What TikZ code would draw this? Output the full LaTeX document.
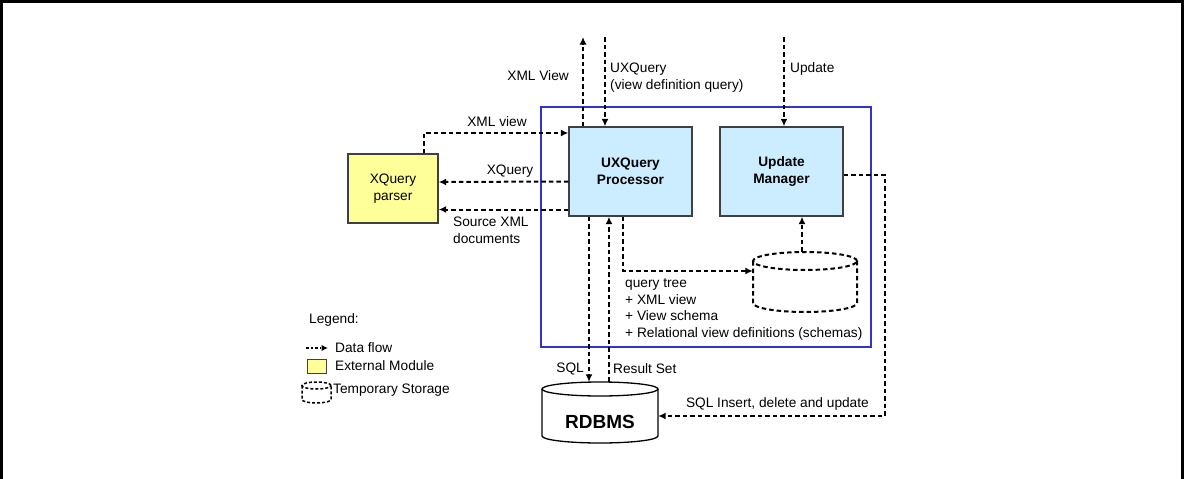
\documentclass[tikz,border=0pt]{standalone}
\usepackage{fontspec}
\setmainfont{Liberation Sans}
\usetikzlibrary{arrows.meta,calc}

\definecolor{procfill}{RGB}{204,236,255}
\definecolor{extfill}{RGB}{255,255,153}
\definecolor{frameblue}{RGB}{51,51,204}
\definecolor{boxline}{RGB}{64,64,64}

\begin{document}
\begin{tikzpicture}[x=1pt,y=-1pt,
  every node/.style={font=\fontsize{13.7}{16.6}\selectfont, inner sep=0pt},
  modbox/.style={draw=boxline, line width=1.3pt, fill=procfill, align=center,
    minimum width=123pt, minimum height=89pt,
    font=\fontsize{13.7}{16.6}\selectfont\bfseries},
  extbox/.style={draw=boxline, line width=1.3pt, fill=extfill, align=center},
  flowline/.style={line width=2pt, dash pattern=on 4.5pt off 3pt},
  flow/.style={flowline, -{Latex[length=7.5pt,width=7pt]}},
  lbl/.style={align=left}]

\useasboundingbox (0,0) rectangle (1187,479);

% outer frame
\draw[line width=3pt] (1.5,479) -- (1.5,1.5) -- (1182.5,1.5) -- (1182.5,479);

% system boundary
\draw[frameblue, line width=2.5pt] (541,107) rectangle (871,347);

% modules
\node[modbox] (uxq) at (630.5,171.5) {UXQuery\\Processor};
\node[modbox] (updm) at (781.5,171.5) {Update\\Manager};
\node[extbox, minimum width=90pt, minimum height=69pt] (xqp) at (393,188.5) {XQuery\\parser};

% relational database
\node[minimum width=116pt, minimum height=61pt] (rdb) at (600,412.5) {};
\draw[line width=1.3pt, fill=white] (542,389) -- (542,436)
  arc[start angle=180, end angle=360, x radius=58pt, y radius=7pt] -- (658,389);
\draw[line width=1.3pt, fill=white] (600,389) ellipse[x radius=58pt, y radius=7pt];
\node[font=\fontsize{19}{22}\selectfont\bfseries] (rdblabel) at (600,422) {RDBMS};

% temporary storage
\node[minimum width=104pt, minimum height=60pt] (tmp) at (805,282) {};
\draw[flowline] (753,261) -- (753,303)
  arc[start angle=180, end angle=360, x radius=52pt, y radius=9pt] -- (857,261);
\draw[flowline] (805,261) ellipse[x radius=52pt, y radius=9pt];

% free ends
\coordinate (xvtop) at (583,37);
\coordinate (uqtop) at (605,37);
\coordinate (updtop) at (784,37);
\coordinate (rcorner) at (885,416);

% data flows
\draw[flow] ($(uxq.north)+(-47.5,0)$) -- (xvtop);
\draw[flow] (uqtop) -- ($(uxq.north)+(-25.5,0)$);
\draw[flow] (updtop) -- ($(updm.north)+(2.5,0)$);
\draw[flow] ($(xqp.north)+(31,0)$) |- ($(uxq.west)+(0,-38.5)$);
\draw[flow] ($(uxq.west)+(0,10)$) -- ($(xqp.east)+(0,-6.5)$);
\draw[flow] ($(uxq.west)+(0,38)$) -- ($(xqp.east)+(0,21)$);
\draw[flow] ($(uxq.south)+(-41.5,0)$) -- ($(rdb.north)+(-11,0)$);
\draw[flow] ($(rdb.north)+(9,0)$) -- ($(uxq.south)+(-21.5,0)$);
\draw[flow] ($(uxq.south)+(-7.5,0)$) |- ($(tmp.west)+(0,-11)$);
\draw[flow] ($(tmp.north)+(-3,0)$) -- ($(updm.south)+(20.5,0)$);
\draw[flow] ($(updm.east)+(0,3.5)$) -| (rcorner) -- ($(rdb.east)+(0,3.5)$);

% flow labels
\node[anchor=east] (lxv) at (569,76) {XML View};
\node[anchor=west, lbl] (luq) at (610,77.5) {UXQuery\\(view definition query)};
\node[anchor=west] (lupd) at (790,69) {Update};
\node (lxv2) at (497,122) {XML view};
\node (lxq) at (510,171) {XQuery};
\node[anchor=west, lbl] (lsrc) at (453,230.5) {Source XML\\documents};
\node[anchor=east] (lsql) at (584,369) {SQL};
\node[anchor=west] (lres) at (613,369) {Result Set};
\node[anchor=west, lbl] (lqt) at (625,309.5) {query tree\\+ XML view\\+ View schema\\+ Relational view definitions (schemas)};
\node[anchor=east] (lins) at (869,404) {SQL Insert, delete and update};

% legend
\node[anchor=west] (lgtitle) at (309,320) {Legend:};
\coordinate (lgA) at (306,348);
\coordinate (lgB) at (328,348);
\draw[line width=1.8pt, dash pattern=on 3pt off 2pt on 1.5pt off 2pt,
  -{Latex[length=6.5pt,width=6.5pt]}] (lgA) -- (lgB);
\node[anchor=west] (lgflow) at (335,348) {Data flow};
\node[extbox, line width=1pt, minimum width=19pt, minimum height=14pt] (lgext) at (317,366) {};
\node[anchor=west] (lgexttxt) at (335,366) {External Module};
\draw[line width=1.5pt, dash pattern=on 3pt off 2pt] (302,385.5) -- (302,399.5)
  arc[start angle=180, end angle=360, x radius=14.5pt, y radius=3.5pt] -- (331,385.5);
\draw[line width=1.5pt, dash pattern=on 3pt off 2pt] (316.5,385.5) ellipse[x radius=14.5pt, y radius=3.5pt];
\node[anchor=west] (lgtmp) at (333,390) {Temporary Storage};

\end{tikzpicture}
\end{document}
